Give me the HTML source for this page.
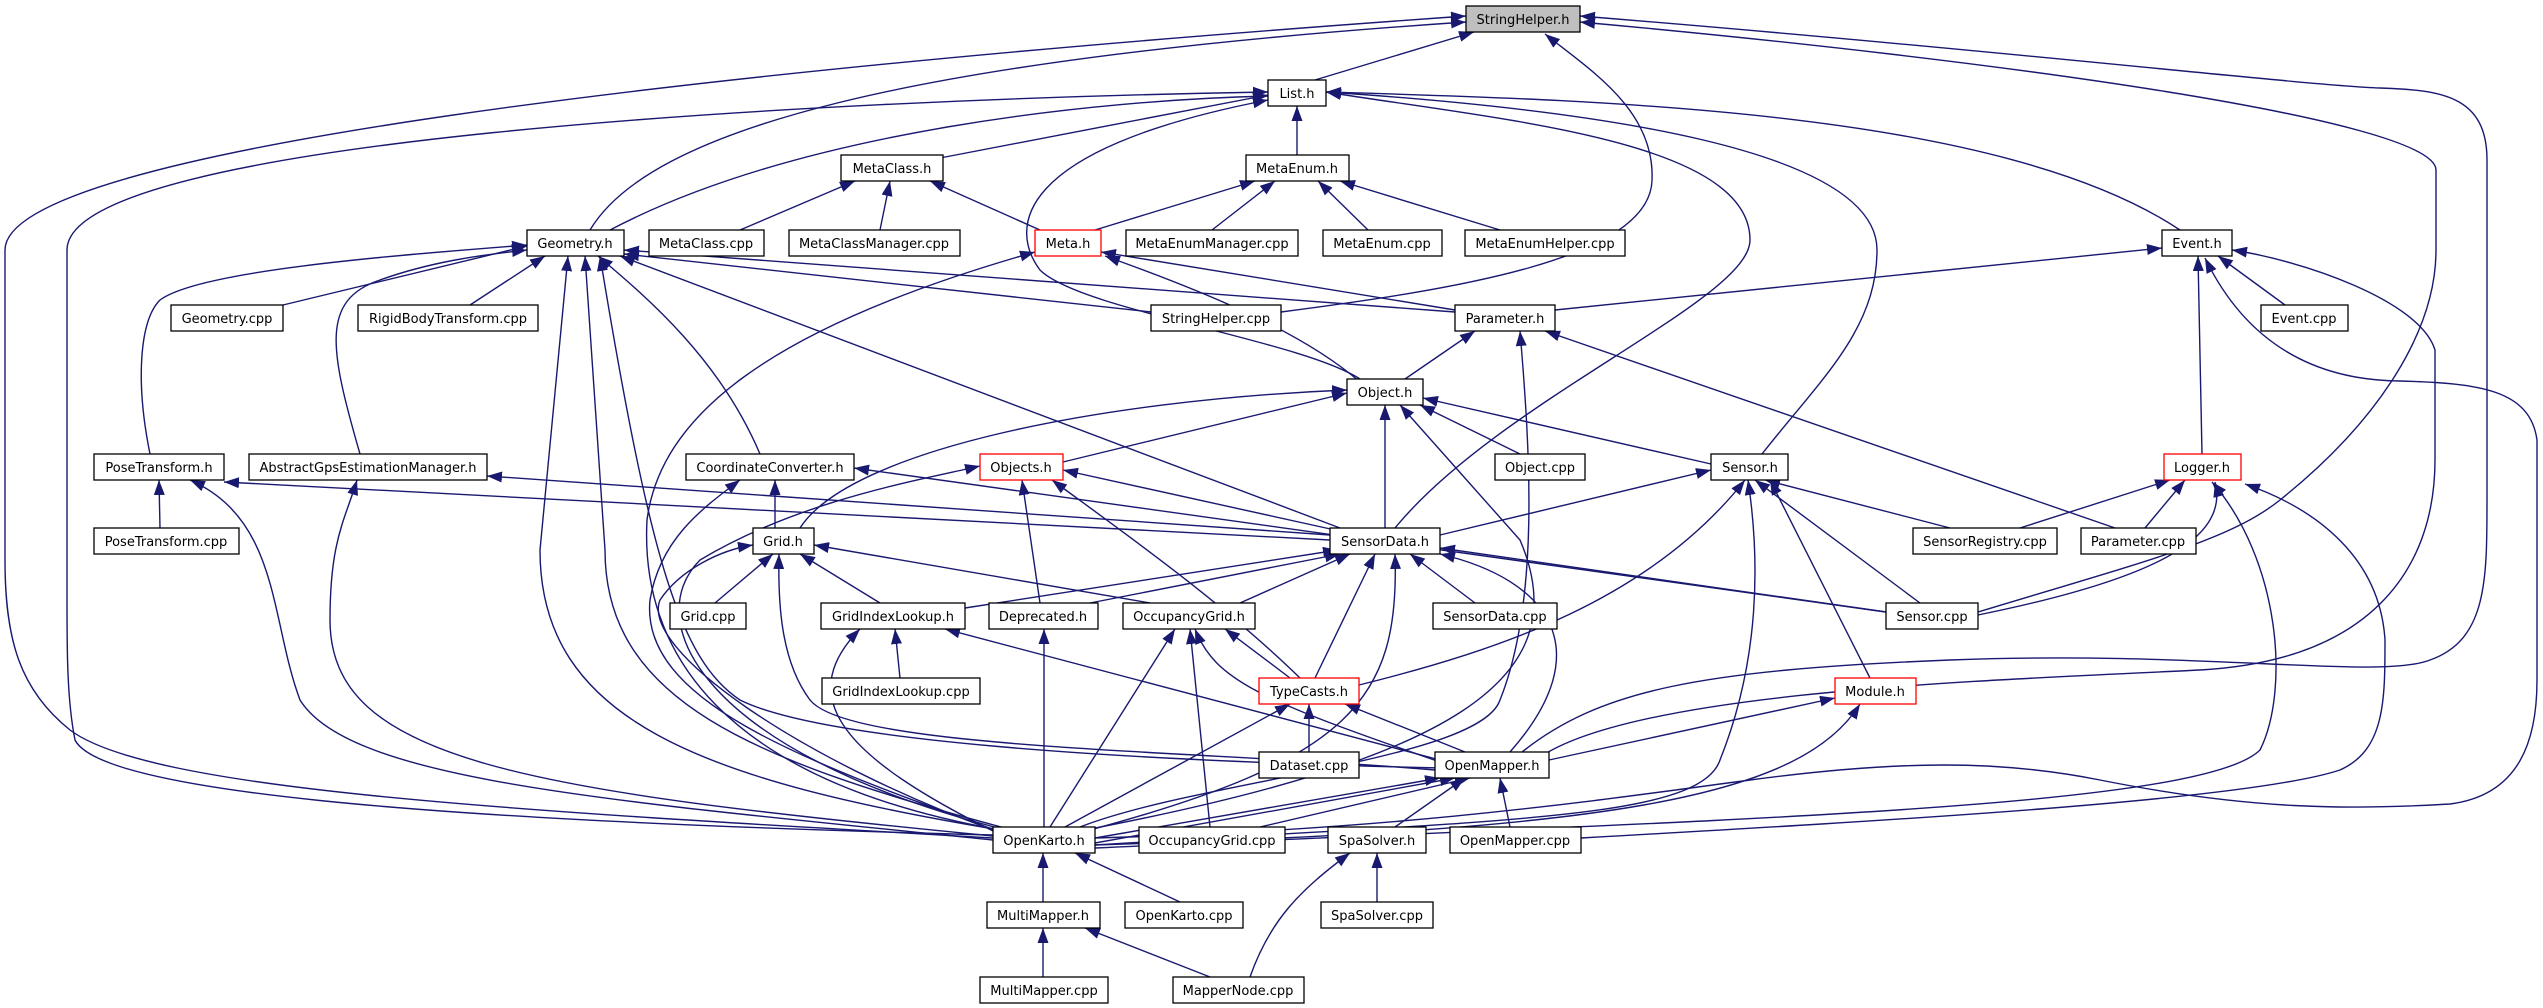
<!DOCTYPE html>
<html><head><meta charset="utf-8"><style>
html,body{margin:0;padding:0;background:#fff;}
svg{display:block;}
text{font-family:"DejaVu Sans","Liberation Sans",sans-serif;font-size:13px;fill:#000;}
.e{fill:none;stroke:#191970;stroke-width:1.4;}
.n{fill:#fff;stroke:#000;stroke-width:1.3;}
.r{fill:#fff;stroke:#ff0000;stroke-width:1.3;}
</style></head><body>
<svg width="2543" height="1008" viewBox="0 0 2543 1008" xmlns="http://www.w3.org/2000/svg">
<defs><marker id="a" markerUnits="userSpaceOnUse" markerWidth="16" markerHeight="12" refX="15" refY="5.5" orient="auto"><path d="M0,0 L15,5.5 L0,11 z" fill="#191970"/></marker></defs>
<g class="e" marker-end="url(#a)">
<path d="M1315,80 L1474,32"/>
<path d="M590,230 C650,130 900,60 1466,22"/>
<path d="M993,838 C500,810 150,790 70,730 C20,690 5,640 5,560 L5,250 C5,150 700,70 1466,16"/>
<path d="M1281,312 C1450,290 1650,260 1652,180 C1655,110 1590,70 1545,34"/>
<path d="M1978,612 C2150,560 2230,540 2280,500 C2380,420 2436,330 2436,250 L2436,170 C2436,120 2000,60 1580,22"/>
<path d="M1522,752 C1600,690 1700,670 1950,660 C2200,650 2380,680 2430,660 C2487,640 2487,580 2487,500 L2487,160 C2487,95 2440,90 2380,88 C2300,85 2000,50 1580,16"/>
<path d="M940,158 L1268,95"/>
<path d="M1297,155 L1297,106"/>
<path d="M610,230 C800,130 1100,100 1268,96"/>
<path d="M1360,379 C1300,340 1080,310 1040,270 C1010,230 1010,150 1268,100"/>
<path d="M993,835 C400,820 100,790 75,740 C67,700 67,650 67,600 L67,250 C67,140 800,100 1268,92"/>
<path d="M1395,528 C1500,400 1750,300 1750,240 C1750,140 1500,120 1326,92"/>
<path d="M1762,454 C1820,380 1877,330 1877,250 C1877,150 1600,110 1326,92"/>
<path d="M2180,230 C2000,110 1600,100 1326,92"/>
<path d="M740,230 L855,181"/>
<path d="M880,230 L890,181"/>
<path d="M1040,230 L930,181"/>
<path d="M1095,230 L1255,181"/>
<path d="M1212,230 L1275,181"/>
<path d="M1368,230 L1318,181"/>
<path d="M1500,230 L1340,181"/>
<path d="M283,305 L527,246"/>
<path d="M470,305 L545,256"/>
<path d="M1151,312 L624,254"/>
<path d="M1455,312 L624,250"/>
<path d="M150,454 C135,380 140,320 160,300 C200,270 400,255 527,245"/>
<path d="M360,454 C330,350 320,300 380,280 C430,262 480,255 527,250"/>
<path d="M760,454 C720,360 650,300 598,256"/>
<path d="M1340,528 L620,256"/>
<path d="M1000,830 C700,780 540,720 540,550 L568,256"/>
<path d="M1005,828 C750,760 605,700 605,550 L585,256"/>
<path d="M1440,768 C1100,760 820,740 740,700 C680,660 650,560 600,256"/>
<path d="M1455,310 L1101,252"/>
<path d="M1360,382 C1300,330 1200,290 1105,256"/>
<path d="M1000,830 C720,780 640,650 647,520 C660,420 760,330 1035,252"/>
<path d="M1555,310 L2162,248"/>
<path d="M2285,305 L2218,256"/>
<path d="M2202,454 L2198,256"/>
<path d="M1545,754 C1650,690 2000,680 2200,670 C2380,660 2435,560 2435,460 L2435,350 C2420,300 2300,260 2232,250"/>
<path d="M1095,838 C1400,830 1600,800 1750,780 C1900,760 2000,760 2100,780 C2250,810 2350,810 2450,804 C2520,795 2537,740 2537,680 L2537,440 C2530,390 2480,383 2400,381 C2300,380 2240,330 2205,258"/>
<path d="M1405,379 L1475,331"/>
<path d="M2115,528 L1545,331"/>
<path d="M1080,827 C1200,780 1480,760 1500,700 C1540,600 1530,450 1520,331"/>
<path d="M1063,462 L1347,393"/>
<path d="M800,528 C850,450 1100,400 1347,390"/>
<path d="M1385,528 L1385,405"/>
<path d="M1520,454 L1420,405"/>
<path d="M1711,464 L1423,398"/>
<path d="M1085,830 C1450,760 1580,680 1520,540 L1400,405"/>
<path d="M160,528 L159,480"/>
<path d="M1330,540 L224,482"/>
<path d="M993,840 C600,800 350,780 300,700 C270,620 280,520 190,480"/>
<path d="M1330,535 L487,476"/>
<path d="M993,836 C520,790 330,760 330,620 C330,540 345,520 357,480"/>
<path d="M775,528 L775,480"/>
<path d="M995,830 C800,760 640,700 650,600 C660,540 700,510 740,480"/>
<path d="M1886,612 L854,468"/>
<path d="M1335,530 L1063,470"/>
<path d="M1040,603 L1022,480"/>
<path d="M1300,678 C1220,600 1120,530 1052,480"/>
<path d="M998,828 C700,750 640,620 700,560 C800,500 920,480 980,466"/>
<path d="M1440,535 L1711,470"/>
<path d="M1950,528 L1765,480"/>
<path d="M1920,603 L1755,480"/>
<path d="M1870,678 L1770,480"/>
<path d="M1359,685 C1500,650 1650,600 1745,480"/>
<path d="M1095,845 C1500,820 1700,820 1720,760 C1760,660 1760,560 1748,480"/>
<path d="M2020,528 L2170,480"/>
<path d="M2145,528 L2185,480"/>
<path d="M1978,615 C2150,580 2230,540 2215,482"/>
<path d="M1095,848 C1700,820 2200,810 2260,750 C2290,690 2280,560 2212,482"/>
<path d="M1581,838 C1900,820 2250,800 2340,770 C2385,750 2385,700 2385,640 C2380,560 2320,510 2245,484"/>
<path d="M965,608 L1338,550"/>
<path d="M1090,603 L1340,554"/>
<path d="M1240,603 L1350,554"/>
<path d="M1475,603 L1410,554"/>
<path d="M1886,612 L1440,548"/>
<path d="M1315,678 L1375,554"/>
<path d="M1510,752 C1600,650 1550,580 1440,554"/>
<path d="M1090,830 C1350,760 1400,700 1395,554"/>
<path d="M715,603 L773,554"/>
<path d="M880,603 L800,554"/>
<path d="M1150,603 L814,545"/>
<path d="M1435,770 C1200,750 850,750 810,700 C780,660 778,600 779,554"/>
<path d="M993,830 C800,760 640,650 660,600 C680,570 720,550 753,545"/>
<path d="M900,678 L895,629"/>
<path d="M1440,760 L945,629"/>
<path d="M995,832 C850,760 790,700 860,629"/>
<path d="M1044,827 L1044,629"/>
<path d="M1290,678 L1225,629"/>
<path d="M1050,827 L1175,629"/>
<path d="M1210,827 L1190,629"/>
<path d="M1440,762 C1260,700 1215,680 1195,629"/>
<path d="M1309,752 L1309,704"/>
<path d="M1465,752 L1345,704"/>
<path d="M1065,827 L1290,704"/>
<path d="M1549,760 L1835,698"/>
<path d="M1095,845 C1600,830 1800,800 1860,704"/>
<path d="M1095,838 L1440,778"/>
<path d="M1095,843 L1455,778"/>
<path d="M1260,827 L1470,778"/>
<path d="M1395,827 L1465,778"/>
<path d="M1510,827 L1500,778"/>
<path d="M1043,902 L1043,853"/>
<path d="M1180,902 L1075,853"/>
<path d="M1377,902 L1377,853"/>
<path d="M1250,977 C1270,920 1300,890 1350,853"/>
<path d="M1043,977 L1043,928"/>
<path d="M1210,977 L1085,928"/>
</g>
<g>
<rect x="1466" y="6" width="114" height="26" fill="#bfbfbf" stroke="#000" stroke-width="1.3"/><text x="1523" y="24" text-anchor="middle">StringHelper.h</text>
<rect class="n" x="1268" y="80" width="58" height="26"/><text x="1297" y="98" text-anchor="middle">List.h</text>
<rect class="n" x="841" y="155" width="102" height="26"/><text x="892" y="173" text-anchor="middle">MetaClass.h</text>
<rect class="n" x="1246" y="155" width="103" height="26"/><text x="1297" y="173" text-anchor="middle">MetaEnum.h</text>
<rect class="n" x="527" y="230" width="97" height="26"/><text x="575" y="248" text-anchor="middle">Geometry.h</text>
<rect class="n" x="649" y="230" width="115" height="26"/><text x="706" y="248" text-anchor="middle">MetaClass.cpp</text>
<rect class="n" x="789" y="230" width="171" height="26"/><text x="874" y="248" text-anchor="middle">MetaClassManager.cpp</text>
<rect class="r" x="1035" y="230" width="66" height="26"/><text x="1068" y="248" text-anchor="middle">Meta.h</text>
<rect class="n" x="1126" y="230" width="172" height="26"/><text x="1212" y="248" text-anchor="middle">MetaEnumManager.cpp</text>
<rect class="n" x="1323" y="230" width="119" height="26"/><text x="1382" y="248" text-anchor="middle">MetaEnum.cpp</text>
<rect class="n" x="1465" y="230" width="160" height="26"/><text x="1545" y="248" text-anchor="middle">MetaEnumHelper.cpp</text>
<rect class="n" x="2162" y="230" width="70" height="26"/><text x="2197" y="248" text-anchor="middle">Event.h</text>
<rect class="n" x="171" y="305" width="112" height="26"/><text x="227" y="323" text-anchor="middle">Geometry.cpp</text>
<rect class="n" x="358" y="305" width="180" height="26"/><text x="448" y="323" text-anchor="middle">RigidBodyTransform.cpp</text>
<rect class="n" x="1151" y="305" width="130" height="26"/><text x="1216" y="323" text-anchor="middle">StringHelper.cpp</text>
<rect class="n" x="1455" y="305" width="100" height="26"/><text x="1505" y="323" text-anchor="middle">Parameter.h</text>
<rect class="n" x="2261" y="305" width="87" height="26"/><text x="2304" y="323" text-anchor="middle">Event.cpp</text>
<rect class="n" x="1347" y="379" width="76" height="26"/><text x="1385" y="397" text-anchor="middle">Object.h</text>
<rect class="n" x="94" y="454" width="130" height="26"/><text x="159" y="472" text-anchor="middle">PoseTransform.h</text>
<rect class="n" x="249" y="454" width="238" height="26"/><text x="368" y="472" text-anchor="middle">AbstractGpsEstimationManager.h</text>
<rect class="n" x="686" y="454" width="168" height="26"/><text x="770" y="472" text-anchor="middle">CoordinateConverter.h</text>
<rect class="r" x="980" y="454" width="83" height="26"/><text x="1021" y="472" text-anchor="middle">Objects.h</text>
<rect class="n" x="1495" y="454" width="90" height="26"/><text x="1540" y="472" text-anchor="middle">Object.cpp</text>
<rect class="n" x="1711" y="454" width="77" height="26"/><text x="1750" y="472" text-anchor="middle">Sensor.h</text>
<rect class="r" x="2164" y="454" width="77" height="26"/><text x="2202" y="472" text-anchor="middle">Logger.h</text>
<rect class="n" x="94" y="528" width="145" height="26"/><text x="166" y="546" text-anchor="middle">PoseTransform.cpp</text>
<rect class="n" x="753" y="528" width="61" height="26"/><text x="783" y="546" text-anchor="middle">Grid.h</text>
<rect class="n" x="1330" y="528" width="110" height="26"/><text x="1385" y="546" text-anchor="middle">SensorData.h</text>
<rect class="n" x="1913" y="528" width="144" height="26"/><text x="1985" y="546" text-anchor="middle">SensorRegistry.cpp</text>
<rect class="n" x="2081" y="528" width="115" height="26"/><text x="2138" y="546" text-anchor="middle">Parameter.cpp</text>
<rect class="n" x="670" y="603" width="76" height="26"/><text x="708" y="621" text-anchor="middle">Grid.cpp</text>
<rect class="n" x="821" y="603" width="144" height="26"/><text x="893" y="621" text-anchor="middle">GridIndexLookup.h</text>
<rect class="n" x="989" y="603" width="109" height="26"/><text x="1043" y="621" text-anchor="middle">Deprecated.h</text>
<rect class="n" x="1123" y="603" width="132" height="26"/><text x="1189" y="621" text-anchor="middle">OccupancyGrid.h</text>
<rect class="n" x="1433" y="603" width="124" height="26"/><text x="1495" y="621" text-anchor="middle">SensorData.cpp</text>
<rect class="n" x="1886" y="603" width="92" height="26"/><text x="1932" y="621" text-anchor="middle">Sensor.cpp</text>
<rect class="n" x="822" y="678" width="158" height="26"/><text x="901" y="696" text-anchor="middle">GridIndexLookup.cpp</text>
<rect class="r" x="1259" y="678" width="100" height="26"/><text x="1309" y="696" text-anchor="middle">TypeCasts.h</text>
<rect class="r" x="1835" y="678" width="81" height="26"/><text x="1875" y="696" text-anchor="middle">Module.h</text>
<rect class="n" x="1259" y="752" width="100" height="26"/><text x="1309" y="770" text-anchor="middle">Dataset.cpp</text>
<rect class="n" x="1435" y="752" width="114" height="26"/><text x="1492" y="770" text-anchor="middle">OpenMapper.h</text>
<rect class="n" x="993" y="827" width="102" height="26"/><text x="1044" y="845" text-anchor="middle">OpenKarto.h</text>
<rect class="n" x="1139" y="827" width="146" height="26"/><text x="1212" y="845" text-anchor="middle">OccupancyGrid.cpp</text>
<rect class="n" x="1328" y="827" width="98" height="26"/><text x="1377" y="845" text-anchor="middle">SpaSolver.h</text>
<rect class="n" x="1450" y="827" width="131" height="26"/><text x="1515" y="845" text-anchor="middle">OpenMapper.cpp</text>
<rect class="n" x="987" y="902" width="113" height="26"/><text x="1043" y="920" text-anchor="middle">MultiMapper.h</text>
<rect class="n" x="1125" y="902" width="118" height="26"/><text x="1184" y="920" text-anchor="middle">OpenKarto.cpp</text>
<rect class="n" x="1321" y="902" width="112" height="26"/><text x="1377" y="920" text-anchor="middle">SpaSolver.cpp</text>
<rect class="n" x="980" y="977" width="128" height="26"/><text x="1044" y="995" text-anchor="middle">MultiMapper.cpp</text>
<rect class="n" x="1173" y="977" width="131" height="26"/><text x="1238" y="995" text-anchor="middle">MapperNode.cpp</text>
</g>
</svg>
</body></html>
